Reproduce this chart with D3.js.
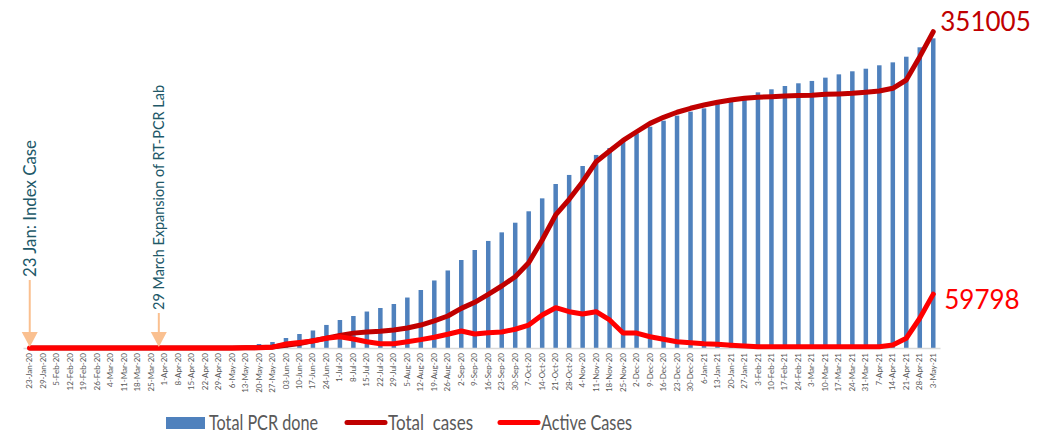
<!DOCTYPE html>
<html>
<head>
<meta charset="utf-8">
<script src="https://cdn.jsdelivr.net/npm/d3@7/dist/d3.min.js"></script>
<style>
  html, body { margin: 0; padding: 0; background: #fff; }
  svg { display: block; }
</style>
</head>
<body>
<svg id="chart" width="1047" height="432"></svg>
<script>
const categories = ["23-Jan-20","29-Jan-20","5-Feb-20","12-Feb-20","19-Feb-20","26-Feb-20","4-Mar-20","11-Mar-20","18-Mar-20","25-Mar-20","1-Apr-20","8-Apr-20","15-Apr-20","22-Apr-20","29-Apr-20","6-May-20","13-May-20","20-May-20","27-May-20","03-Jun-20","10-Jun-20","17-Jun-20","24-Jun-20","1-Jul-20","8-Jul-20","15-Jul-20","22-Jul-20","29-Jul-20","5-Aug-20","12-Aug-20","19-Aug-20","26-Aug-20","2-Sep-20","9-Sep-20","16-Sep-20","23-Sep-20","30-Sep-20","7-Oct-20","14-Oct-20","21-Oct-20","28-Oct-20","4-Nov-20","11-Nov-20","18-Nov-20","25-Nov-20","2-Dec-20","9-Dec-20","16-Dec-20","23-Dec-20","30-Dec-20","6-Jan-21","13-Jan-21","20-Jan-21","27-Jan-21","3-Feb-21","10-Feb-21","17-Feb-21","24-Feb-21","3-Mar-21","10-Mar-21","17-Mar-21","24-Mar-21","31-Mar-21","7-Apr-21","14-Apr-21","21-Apr-21","28-Apr-21","3-May-21"];

const pcrDone = [0,0,0,0,0,0,0,0,0,0,0,0,0,0,0,4000,13000,34000,51000,85000,119000,149000,196000,238000,272000,310000,340000,374000,429000,493000,574000,659000,748000,833000,910000,983000,1065000,1162000,1272000,1394000,1471000,1547000,1641000,1700000,1760000,1825000,1881000,1932000,1975000,2009000,2037000,2074000,2112000,2142000,2173000,2199000,2227000,2250000,2270000,2298000,2326000,2352000,2374000,2403000,2428000,2476000,2556000,2632000];

const totalCases = [1,1,1,1,1,1,1,1,1,3,5,9,16,45,57,99,249,457,1042,3000,5000,8000,11000,14000,16500,17800,18500,20000,22200,25500,30000,35500,44000,50700,59600,68800,79100,94700,119800,147600,165000,184500,206700,218600,230300,240000,249300,256000,261600,266000,269700,272700,275200,277100,278200,278900,279600,280200,280400,281500,281900,282600,283800,285200,288200,297400,323300,351005];

const activeCases = [1,1,1,1,1,1,1,1,1,3,5,9,15,40,40,70,200,400,900,4400,6100,7800,10800,12500,10000,7000,4800,4800,7000,9300,12000,15300,18900,15500,17000,17800,20800,25500,36600,44700,40300,37700,40300,31100,16600,16600,12500,9700,7000,5900,4800,4100,3000,2200,1400,1400,1400,1400,1400,1400,1400,1400,1400,1400,3300,10800,33000,59798];

const seriesNames = ["Total PCR done", "Total  cases", "Active Cases"];
const annotations = [
  { text: "23 Jan: Index Case", at: "23-Jan-20", offset: 0 },
  { text: "29 March Expansion of RT-PCR Lab", at: "25-Mar-20", offset: 4/7 }
];

const svg = d3.select("#chart");
const font = "Lato, 'Open Sans', sans-serif";

const plotLeft = 23, plotRight = 940, plotBottom = 348;

const x = d3.scaleBand().domain(categories).range([plotLeft, plotRight]).padding(0);
const cx = d => x(d) + x.bandwidth() / 2;

const yBar = d3.scaleLinear().domain([0, 2800000]).range([plotBottom, plotBottom - 2800000 / 8500]);
const yLine = d3.scaleLinear().domain([0, 360000]).range([plotBottom, plotBottom - 360000 / 1109.7]);

// bars
const barW = 4.5;
svg.append("g").selectAll("rect").data(categories).join("rect")
  .attr("x", d => cx(d) - barW / 2)
  .attr("y", (d, i) => yBar(pcrDone[i]))
  .attr("width", barW)
  .attr("height", (d, i) => plotBottom - yBar(pcrDone[i]))
  .attr("fill", "#4F81BD");

// x axis
const xAxis = d3.axisBottom(x).tickSize(0).tickPadding(0);
const gx = svg.append("g").attr("transform", `translate(0,${plotBottom})`).call(xAxis);
gx.select(".domain").attr("stroke", "#D9D9D9").attr("stroke-width", 1.5);
gx.selectAll("text")
  .attr("transform", "rotate(-90)")
  .attr("x", -5)
  .attr("y", 0)
  .attr("dy", "0.32em")
  .attr("text-anchor", "end")
  .attr("fill", "#595959")
  .attr("font-size", 8)
  .attr("font-family", font);

// lines
const lineGen = d3.line().x((d, i) => cx(categories[i])).y(d => yLine(d)).curve(d3.curveLinear);
svg.append("path").datum(totalCases).attr("d", lineGen)
  .attr("fill", "none").attr("stroke", "#C00000").attr("stroke-width", 5)
  .attr("stroke-linejoin", "round").attr("stroke-linecap", "round");
svg.append("path").datum(activeCases).attr("d", lineGen)
  .attr("fill", "none").attr("stroke", "#FF0000").attr("stroke-width", 5)
  .attr("stroke-linejoin", "round").attr("stroke-linecap", "round");

// end labels
const lastCat = categories[categories.length - 1];
svg.append("text").attr("x", cx(lastCat) + 7).attr("y", yLine(totalCases[totalCases.length - 1]) - 1)
  .attr("fill", "#C00000").attr("font-size", 26).attr("font-family", font)
  .text(String(totalCases[totalCases.length - 1]));
svg.append("text").attr("x", cx(lastCat) + 11).attr("y", yLine(activeCases[activeCases.length - 1]) + 15)
  .attr("fill", "#FF0000").attr("font-size", 26).attr("font-family", font)
  .text(String(activeCases[activeCases.length - 1]));

// annotations
const annTop = [140, 85], annLen = [137, 225], annSize = [17, 16];
annotations.forEach((a, k) => {
  const ax = cx(a.at) + a.offset * x.step();
  const g = svg.append("g");
  const bottom = annTop[k] + annLen[k];
  g.append("line").attr("x1", ax).attr("x2", ax).attr("y1", bottom + 3).attr("y2", plotBottom - 12)
    .attr("stroke", "#FAC090").attr("stroke-width", 2);
  g.append("path")
    .attr("d", `M${ax - 8},${plotBottom - 16} L${ax + 8},${plotBottom - 16} L${ax},${plotBottom - 1} Z`)
    .attr("fill", "#FAC090");
  g.append("text")
    .attr("transform", `translate(${ax},${bottom}) rotate(-90)`)
    .attr("text-anchor", "start")
    .attr("dy", "0.35em")
    .attr("textLength", annLen[k]).attr("lengthAdjust", "spacingAndGlyphs")
    .attr("fill", "#215868").attr("font-size", annSize[k]).attr("font-family", font)
    .text(a.text);
});

// legend
const legend = svg.append("g").attr("font-family", font).attr("font-size", 21).attr("fill", "#595959");
legend.append("rect").attr("x", 166).attr("y", 417).attr("width", 39).attr("height", 12).attr("fill", "#4F81BD");
legend.append("text").attr("x", 209).attr("y", 429.5).attr("textLength", 109).attr("lengthAdjust", "spacingAndGlyphs").text(seriesNames[0]);
legend.append("line").attr("x1", 347).attr("x2", 385).attr("y1", 422.5).attr("y2", 422.5)
  .attr("stroke", "#C00000").attr("stroke-width", 5).attr("stroke-linecap", "round");
legend.append("text").attr("x", 388).attr("y", 429.5).attr("textLength", 85).attr("lengthAdjust", "spacingAndGlyphs")
  .style("white-space", "pre").text(seriesNames[1]);
legend.append("line").attr("x1", 500).attr("x2", 538).attr("y1", 422.5).attr("y2", 422.5)
  .attr("stroke", "#FF0000").attr("stroke-width", 5).attr("stroke-linecap", "round");
legend.append("text").attr("x", 541).attr("y", 429.5).attr("textLength", 91).attr("lengthAdjust", "spacingAndGlyphs").text(seriesNames[2]);
</script>
</body>
</html>
